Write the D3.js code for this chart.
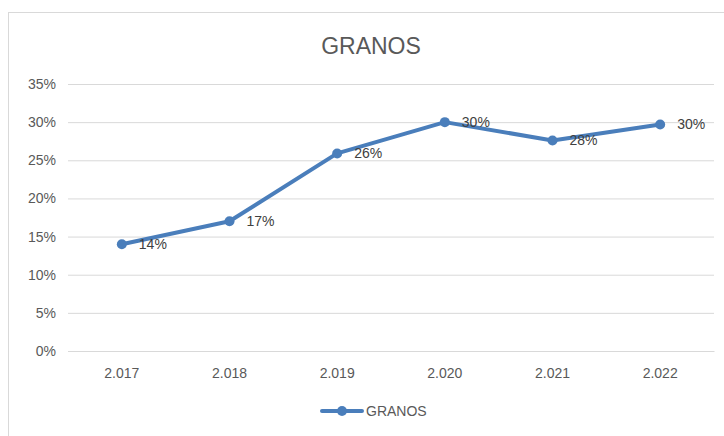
<!DOCTYPE html>
<html><head><meta charset="utf-8">
<script src="https://cdn.jsdelivr.net/npm/d3@7/dist/d3.min.js"></script>
<style>body{margin:0;background:#fff}svg{display:block}</style>
</head><body>
<svg id="c" width="724" height="436"></svg>
<script>
const categories = ["2.017","2.018","2.019","2.020","2.021","2.022"];
const values = [0.14, 0.17, 0.259, 0.30, 0.276, 0.297];
const valueLabels = ["14%","17%","26%","30%","28%","30%"];
const yTicks = [0,0.05,0.10,0.15,0.20,0.25,0.30,0.35];
const seriesName = "GRANOS";
const title = "GRANOS";

const svg = d3.select("#c");
const font = "'Liberation Sans',Arial,sans-serif";
const txt = "#595959";

svg.append("rect").attr("x",8.5).attr("y",12.5).attr("width",730).attr("height",440)
  .attr("fill","#fff").attr("stroke","#d9d9d9");

const x = d3.scaleBand().domain(categories).range([68,714]);
const y = d3.scaleLinear().domain([0,0.35]).range([351,84]);

svg.append("text").attr("x",371).attr("y",54).attr("text-anchor","middle")
  .attr("font-family",font).attr("font-size",23).attr("fill",txt).text(title);

const yAxis = d3.axisLeft(y).tickValues(yTicks).tickFormat(d3.format(".0%")).tickSize(-(714-68)).tickPadding(12);
const gy = svg.append("g").attr("transform","translate(68,0)").call(yAxis);
gy.select(".domain").remove();
gy.selectAll(".tick line").attr("stroke","#d9d9d9").attr("stroke-width",1);
gy.selectAll(".tick text").attr("font-family",font).attr("font-size",14).attr("fill",txt);

const xAxis = d3.axisBottom(x).tickSize(0).tickPadding(17);
const gx = svg.append("g").attr("transform","translate(0,351)").call(xAxis);
gx.select(".domain").attr("stroke","#d9d9d9");
gx.selectAll(".tick text").attr("font-family",font).attr("font-size",14).attr("fill",txt);

const color = "#4a7ebb";
const cx = d => x(d) + x.bandwidth()/2;
const pts = categories.map((c,i)=>({c, v: values[i], l: valueLabels[i]}));

svg.append("path").datum(pts)
  .attr("d", d3.line().x(d=>cx(d.c)).y(d=>y(d.v)))
  .attr("fill","none").attr("stroke",color).attr("stroke-width",4).attr("stroke-linejoin","round").attr("stroke-linecap","round");

svg.selectAll("circle.m").data(pts).join("circle").attr("class","m")
  .attr("cx",d=>cx(d.c)).attr("cy",d=>y(d.v)).attr("r",5).attr("fill",color);

svg.selectAll("text.dl").data(pts).join("text").attr("class","dl")
  .attr("x",d=>cx(d.c)+17).attr("y",d=>y(d.v)+5)
  .attr("font-family",font).attr("font-size",14).attr("fill","#404040").text(d=>d.l);

// legend
const lg = svg.append("g");
lg.append("line").attr("x1",322).attr("x2",362).attr("y1",411).attr("y2",411)
  .attr("stroke",color).attr("stroke-width",4).attr("stroke-linecap","round");
lg.append("circle").attr("cx",342).attr("cy",411).attr("r",5).attr("fill",color);
lg.append("text").attr("x",366).attr("y",416).attr("font-family",font).attr("font-size",14).attr("fill",txt).text(seriesName);
</script>
</body></html>
